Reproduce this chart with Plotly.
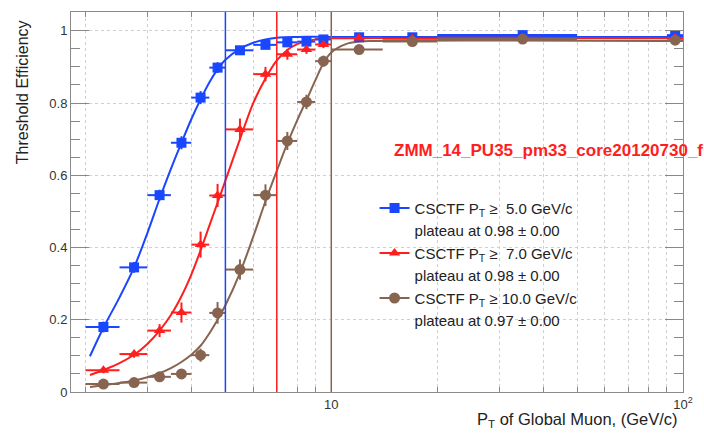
import plotly.graph_objects as go

# ---------------- data ----------------
pt_centers = [2.25, 2.75, 3.25, 3.75, 4.25, 4.75, 5.5, 6.5, 7.5, 8.5, 9.5, 12, 17, 35, 95]
bin_lo = [2.0, 2.5, 3.0, 3.5, 4.0, 4.5, 5, 6, 7, 8, 9, 10, 14, 20, 90]
bin_hi = [2.5, 3.0, 3.5, 4.0, 4.5, 5.0, 6, 7, 8, 9, 10, 14, 20, 50, 100]

eff_5 = [0.18, 0.345, 0.545, 0.69, 0.815, 0.898, 0.946, 0.961, 0.968, 0.970, 0.976, 0.982, 0.982, 0.988, 0.988]
err_5 = [0.015, 0.015, 0.015, 0.018, 0.018, 0.015, 0.010, 0.008, 0.008, 0.008, 0.007, 0.004, 0.004, 0.003, 0.005]
eff_7 = [0.06, 0.105, 0.17, 0.22, 0.408, 0.544, 0.727, 0.88, 0.935, 0.948, 0.962, 0.98, 0.978, 0.98, 0.98]
err_7 = [0.008, 0.010, 0.018, 0.028, 0.036, 0.032, 0.030, 0.020, 0.015, 0.012, 0.010, 0.005, 0.005, 0.004, 0.006]
eff_10 = [0.022, 0.026, 0.042, 0.05, 0.102, 0.219, 0.339, 0.545, 0.695, 0.803, 0.916, 0.948, 0.97, 0.977, 0.974]
err_10 = [0.006, 0.006, 0.008, 0.010, 0.018, 0.030, 0.028, 0.030, 0.025, 0.020, 0.015, 0.008, 0.006, 0.005, 0.008]

# fit curves
fit5_x = [2.06, 2.25, 2.5, 2.75, 3.0, 3.25, 3.5, 3.75, 4.0, 4.25, 4.5, 4.75, 5.0, 5.5, 6.0, 6.5, 7.0, 8.0, 10, 100]
fit5_y = [0.099, 0.178, 0.262, 0.345, 0.44, 0.535, 0.618, 0.69, 0.755, 0.81, 0.857, 0.893, 0.92, 0.95, 0.967, 0.976, 0.981, 0.983, 0.983, 0.983]
fit7_x = [2.06, 2.25, 2.5, 2.75, 3.0, 3.25, 3.5, 3.75, 4.0, 4.25, 4.5, 4.75, 5.0, 5.5, 6.0, 6.5, 7.0, 7.5, 8.0, 8.5, 9.0, 10, 100]
fit7_y = [0.047, 0.061, 0.080, 0.103, 0.133, 0.170, 0.213, 0.265, 0.325, 0.392, 0.46, 0.524, 0.585, 0.70, 0.80, 0.868, 0.918, 0.947, 0.963, 0.971, 0.976, 0.979, 0.979]
fit10_x = [2.06, 2.25, 2.5, 2.75, 3.0, 3.25, 3.5, 3.75, 4.0, 4.25, 4.5, 4.75, 5.0, 5.5, 6.0, 6.5, 7.0, 7.5, 8.0, 8.5, 9.0, 9.5, 10, 11, 12, 13, 100]
fit10_y = [0.014, 0.019, 0.025, 0.032, 0.041, 0.052, 0.066, 0.083, 0.103, 0.128, 0.162, 0.20, 0.24, 0.33, 0.43, 0.528, 0.612, 0.688, 0.752, 0.808, 0.862, 0.91, 0.94, 0.963, 0.97, 0.972, 0.972]

thresholds = [5.0, 7.0, 10.0]
plateaus = [0.98, 0.98, 0.97]
plateau_errs = [0.00, 0.00, 0.00]

colors = ["rgb(25,70,255)", "rgb(255,30,30)", "rgb(135,100,80)"]
symbols = ["square", "triangle-up", "circle"]
msizes = [10, 10, 11]

effs = [eff_5, eff_7, eff_10]
errs = [err_5, err_7, err_10]
fits = [(fit5_x, fit5_y), (fit7_x, fit7_y), (fit10_x, fit10_y)]

FONT = "Liberation Sans, Arial, Helvetica, sans-serif"

fig = go.Figure()

ex_plus = [h - c for h, c in zip(bin_hi, pt_centers)]
ex_minus = [c - l for l, c in zip(bin_lo, pt_centers)]

for i in range(3):
    fig.add_trace(go.Scatter(
        x=fits[i][0], y=fits[i][1], mode="lines",
        line=dict(color=colors[i], width=2, shape="spline", smoothing=1.0),
        showlegend=False, hoverinfo="skip"))
for i in range(3):
    fig.add_trace(go.Scatter(
        x=pt_centers, y=effs[i], mode="markers",
        marker=dict(symbol=symbols[i], size=msizes[i], color=colors[i]),
        error_x=dict(type="data", symmetric=False, array=ex_plus, arrayminus=ex_minus,
                     color=colors[i], thickness=2, width=0),
        error_y=dict(type="data", array=errs[i], color=colors[i], thickness=2, width=0),
        showlegend=False))

# legend entries
for i in range(3):
    gap = "\u00a0\u00a0" if thresholds[i] < 10 else "\u00a0"
    fig.add_trace(go.Scatter(
        x=[None], y=[None], mode="lines+markers",
        line=dict(color=colors[i], width=2),
        marker=dict(symbol=symbols[i], size=msizes[i], color=colors[i]),
        name="CSCTF P<sub>T</sub> \u2265" + gap + f"{thresholds[i]:.1f} GeV/c"))
    fig.add_trace(go.Scatter(
        x=[None], y=[None], mode="lines",
        line=dict(color="rgba(0,0,0,0)", width=0),
        name=f"plateau at {plateaus[i]:.2f} \u00b1 {plateau_errs[i]:.2f}"))

for i, t in enumerate(thresholds):
    fig.add_shape(type="line", xref="x", yref="paper", x0=t, x1=t, y0=0, y1=1,
                  line=dict(color=colors[i], width=1.5))

minor_vals = [2, 3, 4, 5, 6, 7, 8, 9, 20, 30, 40, 50, 60, 70, 80, 90]

fig.update_layout(
    width=704, height=434,
    margin=dict(l=71, r=16, t=11, b=42),
    paper_bgcolor="white", plot_bgcolor="white",
    font=dict(family=FONT, size=13, color="#222"),
    xaxis=dict(type="log", range=[0.26, 2.0], tickmode="array", tickvals=[10, 100],
               ticktext=["10", "10<sup>2</sup>"],
               ticks="inside", ticklen=10, tickcolor="#888",
               minor=dict(tickmode="array", tickvals=minor_vals, ticks="inside", ticklen=5,
                          tickcolor="#888", showgrid=True, gridcolor="#cfcfcf",
                          griddash="dot", gridwidth=1),
               showgrid=True, gridcolor="#cfcfcf", griddash="dot", gridwidth=1,
               showline=True, linecolor="#8a8a8a", linewidth=1, mirror="ticks",
               zeroline=False, tickfont=dict(size=13, color="#333")),
    yaxis=dict(range=[0, 1.052], tickvals=[0, 0.2, 0.4, 0.6, 0.8, 1.0],
               ticktext=["0", "0.2", "0.4", "0.6", "0.8", "1"],
               ticks="inside", ticklen=18, tickcolor="#888",
               minor=dict(dtick=0.05, tick0=0, ticks="inside", ticklen=9, tickcolor="#888", showgrid=False),
               showgrid=True, gridcolor="#cfcfcf", griddash="dot", gridwidth=1,
               showline=True, linecolor="#8a8a8a", linewidth=1, mirror="ticks",
               zeroline=False, tickfont=dict(size=13, color="#333")),
    legend=dict(x=0.496, y=0.527, xanchor="left", yanchor="top",
                bgcolor="rgba(0,0,0,0)", borderwidth=0, tracegroupgap=0,
                font=dict(family=FONT, size=15, color="#222"), traceorder="normal"),
    annotations=[
        dict(text="Threshold Efficiency", xref="paper", yref="paper",
             x=(22 - 71) / 617, y=(392 - 91) / 381, textangle=-90,
             xanchor="center", yanchor="middle", showarrow=False,
             font=dict(family=FONT, size=16, color="#222")),
        dict(text="P<sub>T</sub> of Global Muon, (GeV/c)", xref="paper", yref="paper",
             x=(685 - 71) / 617, y=(392 - 420) / 381, xanchor="right", yanchor="middle",
             showarrow=False, font=dict(family=FONT, size=16.5, color="#222")),
        dict(text="<b>ZMM_14_PU35_pm33_core20120730_f</b>", xref="paper", yref="paper",
             x=(395 - 71) / 617, y=(392 - 150) / 381, xanchor="left", yanchor="middle",
             showarrow=False, font=dict(family=FONT, size=17, color="rgb(255,30,30)")),
    ],
)

fig.write_html("out.html")
